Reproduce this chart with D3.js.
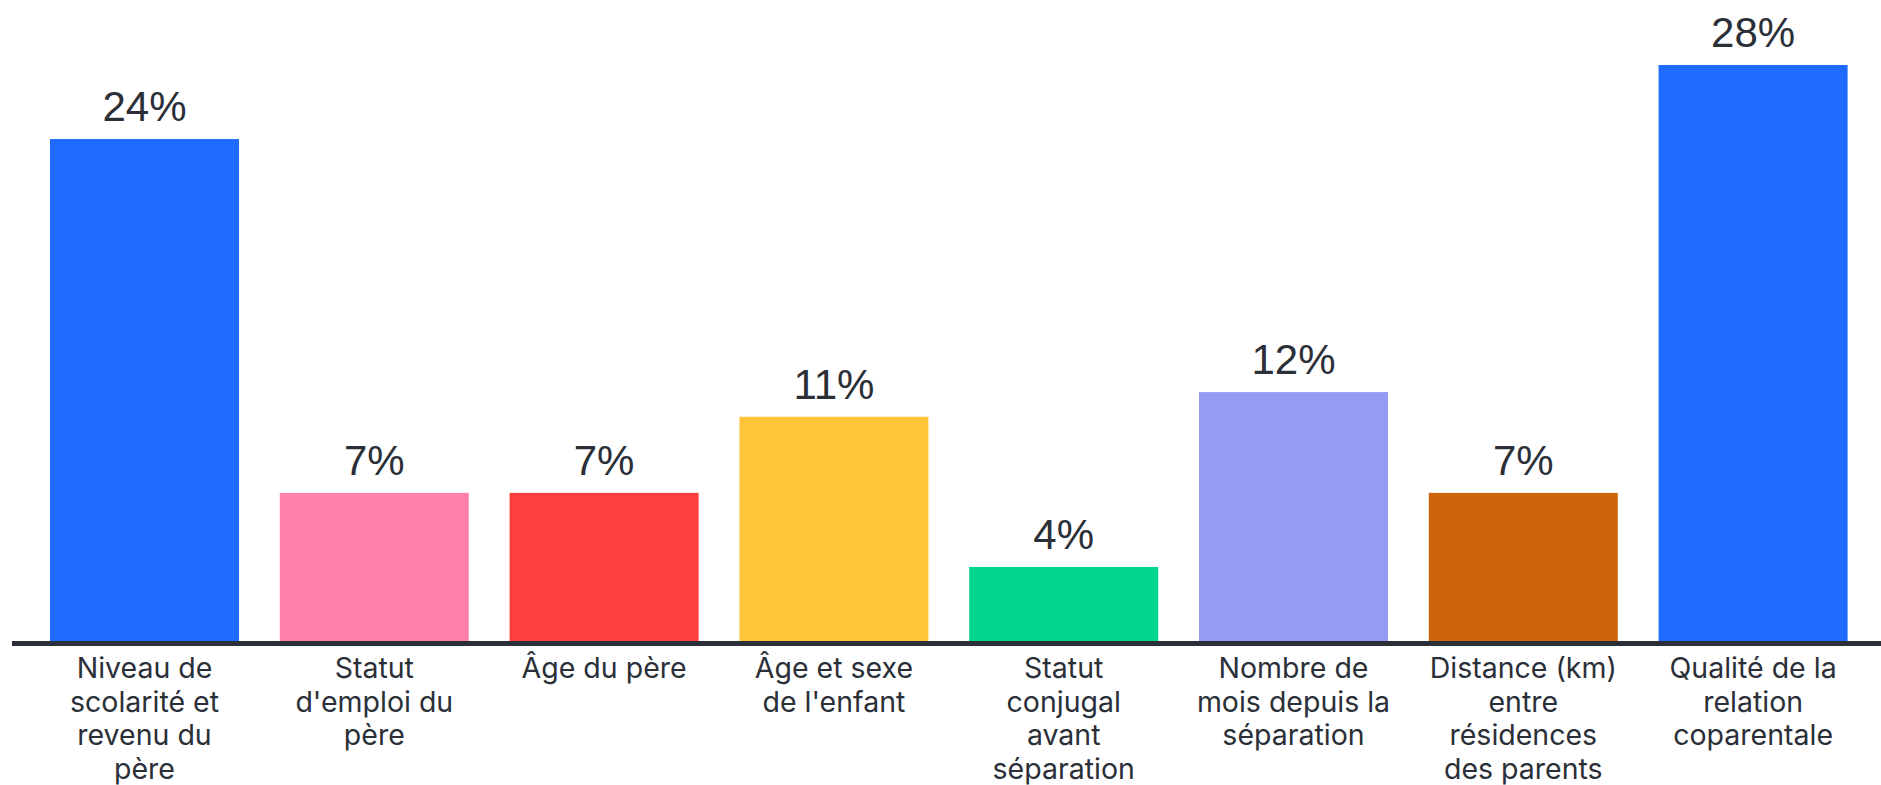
<!DOCTYPE html>
<html lang="fr">
<head>
<meta charset="utf-8">
<title>Facteurs</title>
<style>
  body { margin: 0; background: #fff; }
  .pct { font-family: "Liberation Sans", Arial, sans-serif; font-size: 42px; fill: #2b2f38; }
  .cat text { font-family: Inter, "Noto Sans", sans-serif; font-size: 28.5px; fill: #2b2f38; }
</style>
</head>
<body>
<svg id="chart"></svg>
<script src="https://cdn.jsdelivr.net/npm/d3@7"></script>
<script>
// categories (line breaks as in the picture)
const categories = [
  "Niveau de\nscolarité et\nrevenu du\npère",
  "Statut\nd'emploi du\npère",
  "Âge du père",
  "Âge et sexe\nde l'enfant",
  "Statut\nconjugal\navant\nséparation",
  "Nombre de\nmois depuis la\nséparation",
  "Distance (km)\nentre\nrésidences\ndes parents",
  "Qualité de la\nrelation\ncoparentale"
];
// share in percent
const values = [24.4, 7.2, 7.2, 10.9, 3.6, 12.1, 7.2, 28.0];
const colors = ["#1e6bff", "#ff80aa", "#ff3e3e", "#ffc43a", "#00d68f", "#979af4", "#cb640b", "#1e6bff"];

const W = 1881, H = 785;
const svg = d3.select("#chart").attr("width", W).attr("height", H);

const x = d3.scaleBand()
  .domain(categories)
  .range([29.6, 1868])
  .paddingInner(0.1775)
  .paddingOuter(0.08875);

const y = d3.scaleLinear().domain([0, 28]).range([641, 65]);

svg.selectAll("rect.bar").data(values).enter().append("rect")
  .attr("class", "bar")
  .attr("x", (d, i) => x(categories[i]))
  .attr("y", d => y(d))
  .attr("width", x.bandwidth())
  .attr("height", d => y(0) - y(d))
  .attr("fill", (d, i) => colors[i]);

svg.selectAll("text.pct").data(values).enter().append("text")
  .attr("class", "pct")
  .attr("x", (d, i) => x(categories[i]) + x.bandwidth() / 2)
  .attr("y", d => y(d) - 18)
  .attr("text-anchor", "middle")
  .text(d => Math.round(d) + "%");

// baseline
svg.append("line")
  .attr("x1", 12).attr("x2", W)
  .attr("y1", y(0) + 2.5).attr("y2", y(0) + 2.5)
  .attr("stroke", "#2b2f38").attr("stroke-width", 5);

const xAxis = d3.axisBottom(x).tickSize(0).tickPadding(0);
const gx = svg.append("g")
  .attr("class", "cat")
  .attr("transform", "translate(0," + y(0) + ")")
  .call(xAxis);
gx.select(".domain").remove();
gx.selectAll(".tick text")
  .attr("dy", null)
  .attr("y", 37)
  .text(null)
  .each(function(d) {
    const t = d3.select(this);
    d.split("\n").forEach((line, k) => {
      t.append("tspan").attr("x", 0).attr("y", 37 + k * 33.6).text(line);
    });
  });
</script>
</body>
</html>
